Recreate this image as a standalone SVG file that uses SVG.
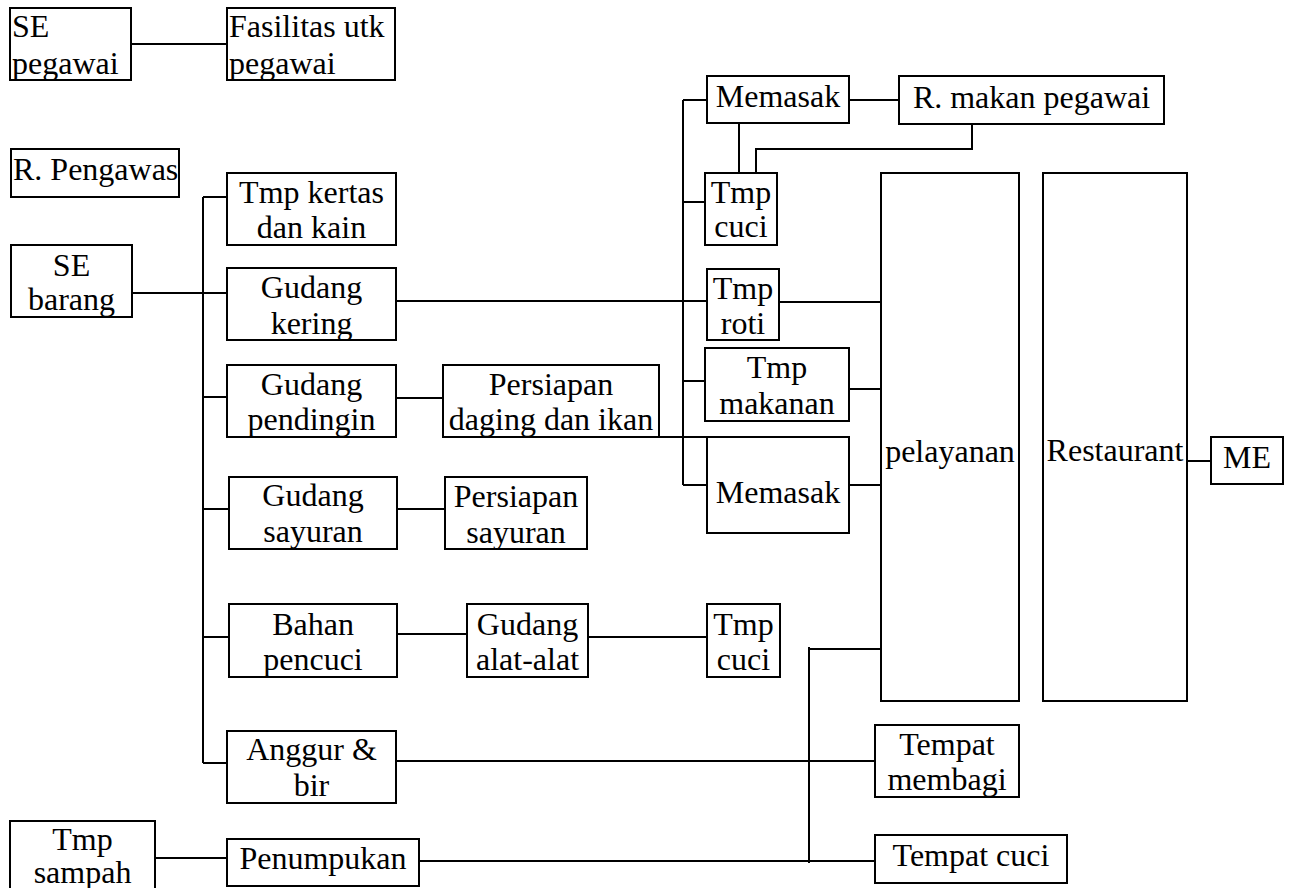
<svg xmlns="http://www.w3.org/2000/svg" width="1291" height="888" viewBox="0 0 1291 888">
<style>
.b{fill:#fff;stroke:#000;stroke-width:2}
.t{font-family:'Liberation Serif','Times New Roman',serif;font-size:32px;fill:#000}
.c{text-anchor:middle}
.l{text-anchor:start}
#connectors path{fill:none;stroke:#000;stroke-width:2}
</style>
<rect width="1291" height="888" fill="#fff"/>
<g id="connectors">
<path d="M131 44H227"/>
<path d="M131 293H227"/>
<path d="M203 197V763"/>
<path d="M203 197H227M203 397H227M203 509H229M203 637H229M203 763H227"/>
<path d="M396 301H707"/>
<path d="M396 398H443"/>
<path d="M659 437H707"/>
<path d="M397 509H445"/>
<path d="M397 634H467"/>
<path d="M588 637H707"/>
<path d="M683 100V485"/>
<path d="M683 100H707M683 202H705M683 381H705M683 485H707"/>
<path d="M849 100H899"/>
<path d="M739 123V173"/>
<path d="M972 124V149H756V173"/>
<path d="M779 302H881"/>
<path d="M849 389H881"/>
<path d="M849 485H881"/>
<path d="M1187 461H1211"/>
<path d="M809 647V863"/>
<path d="M809 649H881"/>
<path d="M396 761H875"/>
<path d="M155 858H227"/>
<path d="M419 861H875"/>
</g>
<g id="se-pegawai"><rect class="b" x="10" y="8" width="121" height="72"/><text class="t l" x="12" y="37">SE</text><text class="t l" x="12" y="74">pegawai</text></g>
<g id="fasilitas"><rect class="b" x="227" y="8" width="168" height="72"/><text class="t l" x="229" y="37">Fasilitas utk</text><text class="t l" x="229" y="74">pegawai</text></g>
<g id="r-pengawas"><rect class="b" x="11" y="149" width="168" height="48"/><text class="t l" x="13" y="180">R. Pengawas</text></g>
<g id="se-barang"><rect class="b" x="11" y="245" width="121" height="72"/><text class="t c" x="71.5" y="276">SE</text><text class="t c" x="71.5" y="310">barang</text></g>
<g id="tmp-kertas"><rect class="b" x="227" y="173" width="169" height="72"/><text class="t c" x="311.5" y="203">Tmp kertas</text><text class="t c" x="311.5" y="238">dan kain</text></g>
<g id="gudang-kering"><rect class="b" x="227" y="268" width="169" height="72"/><text class="t c" x="311.5" y="298">Gudang</text><text class="t c" x="311.5" y="334">kering</text></g>
<g id="gudang-pendingin"><rect class="b" x="227" y="365" width="169" height="72"/><text class="t c" x="311.5" y="395">Gudang</text><text class="t c" x="311.5" y="430">pendingin</text></g>
<g id="gudang-sayuran"><rect class="b" x="229" y="477" width="168" height="72"/><text class="t c" x="313" y="506">Gudang</text><text class="t c" x="313" y="542">sayuran</text></g>
<g id="bahan-pencuci"><rect class="b" x="229" y="604" width="168" height="73"/><text class="t c" x="313" y="635">Bahan</text><text class="t c" x="313" y="670">pencuci</text></g>
<g id="anggur-bir"><rect class="b" x="227" y="731" width="169" height="72"/><text class="t c" x="311.5" y="760">Anggur &amp;</text><text class="t c" x="311.5" y="796">bir</text></g>
<g id="tmp-sampah"><rect class="b" x="10" y="821" width="145" height="80"/><text class="t c" x="82.5" y="850">Tmp</text><text class="t c" x="82.5" y="883">sampah</text></g>
<g id="penumpukan"><rect class="b" x="227" y="839" width="192" height="47"/><text class="t c" x="323" y="869">Penumpukan</text></g>
<g id="persiapan-daging"><rect class="b" x="443" y="365" width="216" height="72"/><text class="t c" x="551" y="395">Persiapan</text><text class="t c" x="551" y="430">daging dan ikan</text></g>
<g id="persiapan-sayuran"><rect class="b" x="445" y="477" width="142" height="72"/><text class="t c" x="516" y="507">Persiapan</text><text class="t c" x="516" y="543">sayuran</text></g>
<g id="gudang-alat"><rect class="b" x="467" y="604" width="121" height="73"/><text class="t c" x="527.5" y="635">Gudang</text><text class="t c" x="527.5" y="670">alat-alat</text></g>
<g id="tmp-cuci-2"><rect class="b" x="707" y="604" width="73" height="73"/><text class="t c" x="743.5" y="635">Tmp</text><text class="t c" x="743.5" y="670">cuci</text></g>
<g id="memasak-1"><rect class="b" x="707" y="76" width="142" height="47"/><text class="t c" x="778" y="107">Memasak</text></g>
<g id="r-makan"><rect class="b" x="899" y="76" width="265" height="48"/><text class="t c" x="1031.5" y="108">R. makan pegawai</text></g>
<g id="tmp-cuci-1"><rect class="b" x="705" y="173" width="72" height="72"/><text class="t c" x="741" y="203">Tmp</text><text class="t c" x="741" y="237">cuci</text></g>
<g id="tmp-roti"><rect class="b" x="707" y="269" width="72" height="71"/><text class="t c" x="743" y="299">Tmp</text><text class="t c" x="743" y="334">roti</text></g>
<g id="tmp-makanan"><rect class="b" x="705" y="348" width="144" height="73"/><text class="t c" x="777" y="378">Tmp</text><text class="t c" x="777" y="414">makanan</text></g>
<g id="memasak-2"><rect class="b" x="707" y="437" width="142" height="96"/><text class="t c" x="778" y="503">Memasak</text></g>
<g id="pelayanan"><rect class="b" x="881" y="173" width="138" height="528"/><text class="t c" x="950" y="462">pelayanan</text></g>
<g id="restaurant"><rect class="b" x="1043" y="173" width="144" height="528"/><text class="t c" x="1115" y="461">Restaurant</text></g>
<g id="me"><rect class="b" x="1211" y="437" width="72" height="47"/><text class="t c" x="1247" y="468">ME</text></g>
<g id="tempat-membagi"><rect class="b" x="875" y="725" width="144" height="72"/><text class="t c" x="947" y="755">Tempat</text><text class="t c" x="947" y="790">membagi</text></g>
<g id="tempat-cuci"><rect class="b" x="875" y="835" width="192" height="48"/><text class="t c" x="971" y="866">Tempat cuci</text></g>
</svg>
